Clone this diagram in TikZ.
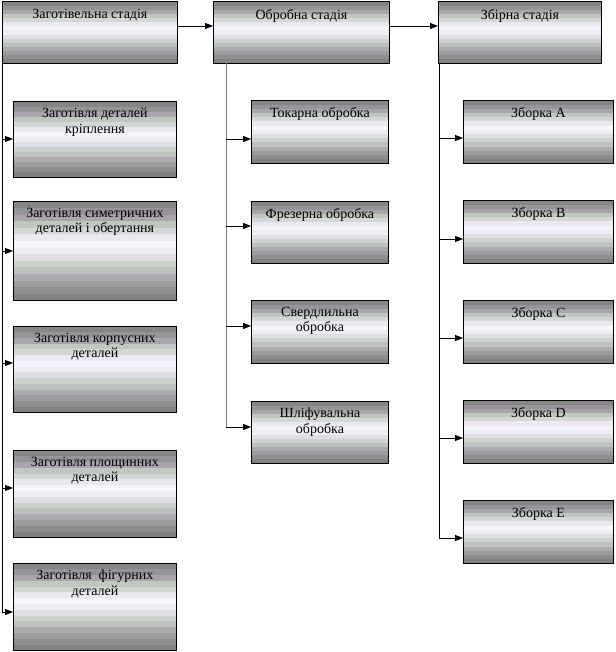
\documentclass[tikz,border=0pt]{standalone}
\usepackage{fontspec}
\setmainfont{Liberation Serif}
\usetikzlibrary{arrows.meta,calc}
\tikzset{
  box/.style={draw=black, line width=0.9pt, inner sep=0pt, anchor=north west,
    path picture={
      \foreach \r/\g/\b [count=\k from 0] in {134/134/134, 150/148/152, 168/166/170, 192/198/192, 212/216/212, 236/232/240, 246/243/250, 240/236/244, 224/222/228, 204/210/204, 190/194/190, 172/170/174, 156/156/158, 142/142/142, 130/130/130} {
        \definecolor{bandc}{RGB}{\r,\g,\b}
        \fill[bandc] ($(path picture bounding box.north west)!{\k/15}!(path picture bounding box.south west)$) rectangle ($(path picture bounding box.north east)!{(\k+1.15)/15}!(path picture bounding box.south east)$);
      }
    }},
  lbl/.style={anchor=north, inner sep=0pt, align=center, font=\fontsize{14}{15.5}\selectfont},
  arr/.style={line width=0.9pt, -{Triangle[length=8pt,width=6pt]}},
  bus/.style={line width=0.9pt},
}
\begin{document}
\begin{tikzpicture}[x=1pt,y=-1pt]
\useasboundingbox (0,0) rectangle (615,652);
% stage boxes
\node[box, minimum width=175pt, minimum height=62pt] (s1) at (2,1) {};
\node[box, minimum width=176pt, minimum height=62pt] (s2) at (213,1) {};
\node[box, minimum width=163pt, minimum height=62pt] (s3) at (438,1) {};
\node[lbl] (ts1) at ([yshift=-8pt]s1.north) {Заготівельна стадія};
\node[lbl] (ts2) at ([yshift=-8pt]s2.north) {Обробна стадія};
\node[lbl] (ts3) at ([yshift=-8pt]s3.north) {Збірна стадія};
% column 1
\node[box, minimum width=163pt, minimum height=76pt] (c11) at (13,101) {};
\node[box, minimum width=163pt, minimum height=99pt] (c12) at (13,201) {};
\node[box, minimum width=163pt, minimum height=86pt] (c13) at (13,326) {};
\node[box, minimum width=163pt, minimum height=87pt] (c14) at (13,450) {};
\node[box, minimum width=163pt, minimum height=87pt] (c15) at (13,563) {};
\node[lbl] (t11) at ([yshift=-7pt]c11.north) {Заготівля деталей\\кріплення};
\node[lbl] (t12) at ([yshift=-7pt]c12.north) {Заготівля симетричних\\деталей і обертання};
\node[lbl] (t13) at ([yshift=-7pt]c13.north) {Заготівля корпусних\\деталей};
\node[lbl] (t14) at ([yshift=-7pt]c14.north) {Заготівля площинних\\деталей};
\node[lbl] (t15) at ([yshift=-7pt]c15.north) {Заготівля~ фігурних\\деталей};
% column 2
\node[box, minimum width=137pt, minimum height=63pt] (c21) at (251,100) {};
\node[box, minimum width=137pt, minimum height=62pt] (c22) at (251,201) {};
\node[box, minimum width=137pt, minimum height=63pt] (c23) at (251,300) {};
\node[box, minimum width=137pt, minimum height=62pt] (c24) at (251,401) {};
\node[lbl] (t21) at ([yshift=-7pt]c21.north) {Токарна обробка};
\node[lbl] (t22) at ([yshift=-7pt]c22.north) {Фрезерна обробка};
\node[lbl] (t23) at ([yshift=-7pt]c23.north) {Свердлильна\\обробка};
\node[lbl] (t24) at ([yshift=-7pt]c24.north) {Шліфувальна\\обробка};
% column 3
\node[box, minimum width=150pt, minimum height=63pt] (c31) at (463,100) {};
\node[box, minimum width=150pt, minimum height=63pt] (c32) at (463,200) {};
\node[box, minimum width=150pt, minimum height=63pt] (c33) at (463,300) {};
\node[box, minimum width=150pt, minimum height=63pt] (c34) at (463,400) {};
\node[box, minimum width=150pt, minimum height=63pt] (c35) at (463,500) {};
\node[lbl] (t31) at ([yshift=-7pt]c31.north) {Зборка A};
\node[lbl] (t32) at ([yshift=-7pt]c32.north) {Зборка B};
\node[lbl] (t33) at ([yshift=-7pt]c33.north) {Зборка C};
\node[lbl] (t34) at ([yshift=-7pt]c34.north) {Зборка D};
\node[lbl] (t35) at ([yshift=-7pt]c35.north) {Зборка E};
% stage links
\coordinate (e12) at (s2.west |- 0,26);
\coordinate (e23) at (s3.west |- 0,26);
\draw[arr] (s1.east |- e12) -- (e12);
\draw[arr] (s2.east |- e23) -- (e23);
% arrow targets
\coordinate (a11) at (c11.west |- 0,139);
\coordinate (a12) at (c12.west |- 0,251);
\coordinate (a13) at (c13.west |- 0,363);
\coordinate (a14) at (c14.west |- 0,488);
\coordinate (a15) at (c15.west |- 0,612);
\coordinate (a21) at (c21.west |- 0,139);
\coordinate (a22) at (c22.west |- 0,226);
\coordinate (a23) at (c23.west |- 0,326);
\coordinate (a24) at (c24.west |- 0,427);
\coordinate (a31) at (c31.west |- 0,138);
\coordinate (a32) at (c32.west |- 0,239);
\coordinate (a33) at (c33.west |- 0,338);
\coordinate (a34) at (c34.west |- 0,438);
\coordinate (a35) at (c35.west |- 0,538);
% buses
\coordinate (b1) at (2,63);
\coordinate (b2) at (226,63);
\coordinate (b3) at (439,63);
\draw[bus] (b1) -- (b1 |- a15);
\draw[bus, draw=gray] (b2) -- (b2 |- a24);
\draw[bus] (b3) -- (b3 |- a35);
\foreach \i in {1,...,5} \draw[arr] (b1 |- a1\i) -- (a1\i);
\foreach \i in {1,...,4} \draw[arr] (b2 |- a2\i) -- (a2\i);
\foreach \i in {1,...,5} \draw[arr] (b3 |- a3\i) -- (a3\i);
\end{tikzpicture}
\end{document}
